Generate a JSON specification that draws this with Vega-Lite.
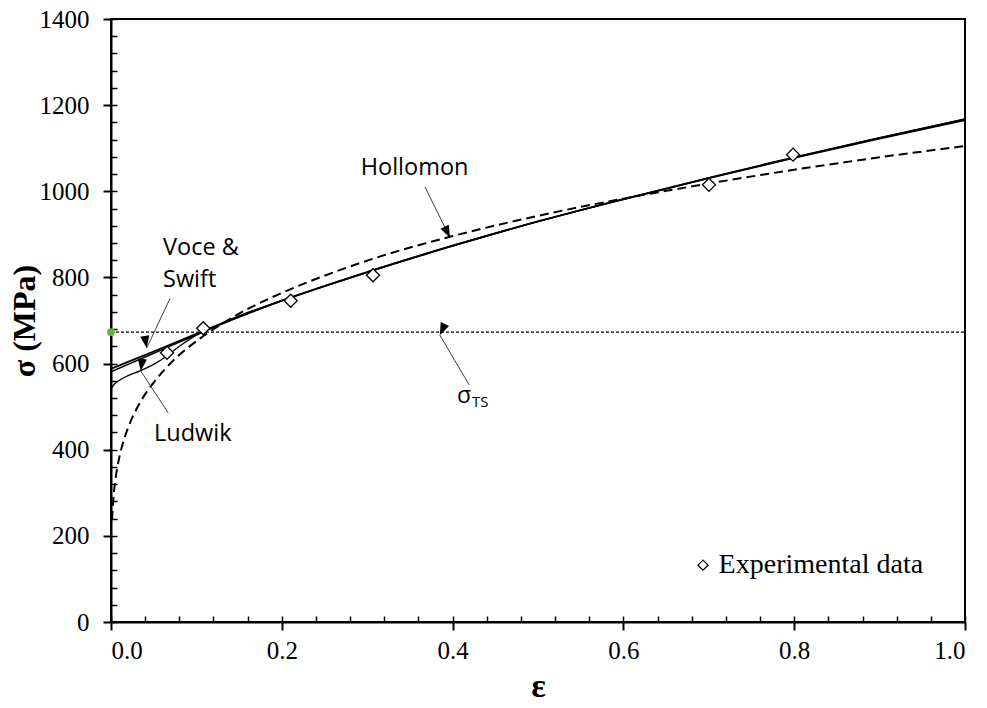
{
  "$schema": "https://vega.github.io/schema/vega-lite/v6.json",
  "width": 854,
  "height": 603,
  "autosize": "none",
  "padding": {"left": 111, "top": 19, "right": 22, "bottom": 86},
  "background": "white",
  "config": {
    "view": {"stroke": "black", "strokeWidth": 2},
    "axis": {"grid": false, "domainColor": "black", "tickColor": "black", "labelColor": "black", "titleColor": "black"}
  },
  "datasets": {
    "curves": [
      {"model": "Hollomon", "eps": 0.0012, "sigma": 237},
      {"model": "Hollomon", "eps": 0.003, "sigma": 292},
      {"model": "Hollomon", "eps": 0.005, "sigma": 328},
      {"model": "Hollomon", "eps": 0.0075, "sigma": 360},
      {"model": "Hollomon", "eps": 0.01, "sigma": 385},
      {"model": "Hollomon", "eps": 0.015, "sigma": 422},
      {"model": "Hollomon", "eps": 0.02, "sigma": 451},
      {"model": "Hollomon", "eps": 0.03, "sigma": 495},
      {"model": "Hollomon", "eps": 0.04, "sigma": 529},
      {"model": "Hollomon", "eps": 0.05, "sigma": 556},
      {"model": "Hollomon", "eps": 0.075, "sigma": 611},
      {"model": "Hollomon", "eps": 0.1, "sigma": 652},
      {"model": "Hollomon", "eps": 0.125, "sigma": 686},
      {"model": "Hollomon", "eps": 0.15, "sigma": 716},
      {"model": "Hollomon", "eps": 0.2, "sigma": 764},
      {"model": "Hollomon", "eps": 0.25, "sigma": 804},
      {"model": "Hollomon", "eps": 0.3, "sigma": 839},
      {"model": "Hollomon", "eps": 0.4, "sigma": 896},
      {"model": "Hollomon", "eps": 0.5, "sigma": 943},
      {"model": "Hollomon", "eps": 0.6, "sigma": 983},
      {"model": "Hollomon", "eps": 0.7, "sigma": 1018},
      {"model": "Hollomon", "eps": 0.8, "sigma": 1050},
      {"model": "Hollomon", "eps": 0.9, "sigma": 1079},
      {"model": "Hollomon", "eps": 1.0, "sigma": 1105},
      {"model": "Swift", "eps": 0, "sigma": 588},
      {"model": "Swift", "eps": 0.02, "sigma": 604},
      {"model": "Swift", "eps": 0.05, "sigma": 628},
      {"model": "Swift", "eps": 0.1, "sigma": 669},
      {"model": "Swift", "eps": 0.15, "sigma": 709},
      {"model": "Swift", "eps": 0.2, "sigma": 746},
      {"model": "Swift", "eps": 0.3, "sigma": 812},
      {"model": "Swift", "eps": 0.4, "sigma": 873},
      {"model": "Swift", "eps": 0.5, "sigma": 930},
      {"model": "Swift", "eps": 0.6, "sigma": 982},
      {"model": "Swift", "eps": 0.7, "sigma": 1031},
      {"model": "Swift", "eps": 0.8, "sigma": 1079},
      {"model": "Swift", "eps": 0.9, "sigma": 1124},
      {"model": "Swift", "eps": 1.0, "sigma": 1167},
      {"model": "Voce", "eps": 0, "sigma": 581},
      {"model": "Voce", "eps": 0.02, "sigma": 598},
      {"model": "Voce", "eps": 0.05, "sigma": 624},
      {"model": "Voce", "eps": 0.1, "sigma": 667},
      {"model": "Voce", "eps": 0.15, "sigma": 708},
      {"model": "Voce", "eps": 0.2, "sigma": 746},
      {"model": "Voce", "eps": 0.3, "sigma": 813},
      {"model": "Voce", "eps": 0.4, "sigma": 874},
      {"model": "Voce", "eps": 0.5, "sigma": 930},
      {"model": "Voce", "eps": 0.6, "sigma": 981},
      {"model": "Voce", "eps": 0.7, "sigma": 1030},
      {"model": "Voce", "eps": 0.8, "sigma": 1077},
      {"model": "Voce", "eps": 0.9, "sigma": 1122},
      {"model": "Voce", "eps": 1.0, "sigma": 1165},
      {"model": "Ludwik", "eps": 0, "sigma": 540},
      {"model": "Ludwik", "eps": 0.003, "sigma": 550},
      {"model": "Ludwik", "eps": 0.0105, "sigma": 562},
      {"model": "Ludwik", "eps": 0.02, "sigma": 572},
      {"model": "Ludwik", "eps": 0.034, "sigma": 583},
      {"model": "Ludwik", "eps": 0.05, "sigma": 598},
      {"model": "Ludwik", "eps": 0.065, "sigma": 617},
      {"model": "Ludwik", "eps": 0.08, "sigma": 640},
      {"model": "Ludwik", "eps": 0.1, "sigma": 666},
      {"model": "Ludwik", "eps": 0.12, "sigma": 685},
      {"model": "Ludwik", "eps": 0.15, "sigma": 711},
      {"model": "Ludwik", "eps": 0.2, "sigma": 746},
      {"model": "Ludwik", "eps": 0.3, "sigma": 812},
      {"model": "Ludwik", "eps": 0.4, "sigma": 873},
      {"model": "Ludwik", "eps": 0.5, "sigma": 930},
      {"model": "Ludwik", "eps": 0.6, "sigma": 982},
      {"model": "Ludwik", "eps": 0.7, "sigma": 1031},
      {"model": "Ludwik", "eps": 0.8, "sigma": 1079},
      {"model": "Ludwik", "eps": 0.9, "sigma": 1124},
      {"model": "Ludwik", "eps": 1.0, "sigma": 1168}
    ],
    "exp": [
      {"eps": 0.0656, "sigma": 625},
      {"eps": 0.108, "sigma": 682},
      {"eps": 0.2104, "sigma": 746},
      {"eps": 0.3068, "sigma": 805},
      {"eps": 0.7002, "sigma": 1015},
      {"eps": 0.7986, "sigma": 1085}
    ],
    "legendSymbol": [
      {"eps": 0.6932, "sigma": 132}
    ],
    "legendText": [
      {"text": "Experimental data", "eps": 0.7115, "sigma": 132}
    ],
    "ts": [
      {"eps": 0, "sigma": 673},
      {"eps": 1, "sigma": 673}
    ],
    "tsPoint": [
      {"eps": 0, "sigma": 673}
    ],
    "arrows": [
      {"id": "Hollomon", "end": "start", "eps": 0.3677, "sigma": 1010},
      {"id": "Hollomon", "end": "tip", "eps": 0.397, "sigma": 892},
      {"id": "Voce", "end": "start", "eps": 0.0691, "sigma": 751},
      {"id": "Voce", "end": "tip", "eps": 0.0418, "sigma": 636},
      {"id": "Ludwik", "end": "start", "eps": 0.0671, "sigma": 485},
      {"id": "Ludwik", "end": "tip", "eps": 0.0348, "sigma": 583},
      {"id": "TS", "end": "start", "eps": 0.4196, "sigma": 550},
      {"id": "TS", "end": "tip", "eps": 0.385, "sigma": 666}
    ],
    "labels": [
      {"text": "Hollomon", "eps": 0.2924, "sigma": 1054},
      {"text": "Voce &", "eps": 0.0609, "sigma": 868},
      {"text": "Swift", "eps": 0.0609, "sigma": 794},
      {"text": "Ludwik", "eps": 0.0504, "sigma": 436}
    ],
    "sigmaLabel": [
      {"text": "σ", "eps": 0.4052, "sigma": 508}
    ],
    "subLabel": [
      {"text": "TS", "eps": 0.4227, "sigma": 499}
    ]
  },
  "encoding": {
    "x": {"field": "eps", "type": "quantitative", "scale": {"domain": [0, 1], "nice": false, "zero": false}, "axis": null},
    "y": {"field": "sigma", "type": "quantitative", "scale": {"domain": [0, 1400], "nice": false, "zero": false}, "axis": null}
  },
  "layer": [
    {
      "data": {"name": "ts"},
      "mark": {"type": "line", "color": "black", "strokeWidth": 1.2, "strokeDash": [3, 2]},
      "encoding": {
        "x": {"field": "eps", "type": "quantitative", "scale": {"domain": [0, 1], "nice": false, "zero": false},
              "axis": {"values": [0, 0.04, 0.08, 0.12, 0.16, 0.2, 0.24, 0.28, 0.32, 0.36, 0.4, 0.44, 0.48, 0.52, 0.56, 0.6, 0.64, 0.68, 0.72, 0.76, 0.8, 0.84, 0.88, 0.92, 0.96, 1.0],
                       "labels": false, "domain": false, "tickSize": -6, "tickWidth": 1.5, "title": null, "orient": "bottom"}},
        "y": {"field": "sigma", "type": "quantitative", "scale": {"domain": [0, 1400], "nice": false, "zero": false},
              "axis": {"values": [0, 40, 80, 120, 160, 200, 240, 280, 320, 360, 400, 440, 480, 520, 560, 600, 640, 680, 720, 760, 800, 840, 880, 920, 960, 1000, 1040, 1080, 1120, 1160, 1200, 1240, 1280, 1320, 1360, 1400],
                       "labels": false, "domain": false, "tickSize": -6, "tickWidth": 1.5, "title": null, "orient": "left"}}
      }
    },
    {
      "data": {"name": "curves"},
      "transform": [{"filter": "datum.model === 'Swift'"}],
      "mark": {"type": "line", "color": "black", "strokeWidth": 1.8, "interpolate": "monotone"},
      "encoding": {
        "x": {"field": "eps", "type": "quantitative", "scale": {"domain": [0, 1], "nice": false, "zero": false},
              "axis": {"values": [0, 0.2, 0.4, 0.6, 0.8, 1.0], "format": ".1f", "title": "ε", "orient": "bottom",
                       "titleFont": "Liberation Serif", "titleFontSize": 34, "titleFontWeight": "bold", "titlePadding": 6,
                       "labelFont": "Liberation Serif", "labelFontSize": 25, "labelPadding": 8,
                       "tickSize": 8, "tickWidth": 2, "domainWidth": 2}},
        "y": {"field": "sigma", "type": "quantitative", "scale": {"domain": [0, 1400], "nice": false, "zero": false},
              "axis": {"values": [0, 200, 400, 600, 800, 1000, 1200, 1400], "format": "d", "title": "σ (MPa)", "orient": "left",
                       "titleFont": "Liberation Serif", "titleFontSize": 32, "titleFontWeight": "bold", "titlePadding": -2,
                       "labelFont": "Liberation Serif", "labelFontSize": 25, "labelPadding": 14,
                       "tickSize": 8, "tickWidth": 2, "domainWidth": 2}}
      }
    },
    {
      "data": {"name": "curves"},
      "transform": [{"filter": "datum.model === 'Voce'"}],
      "mark": {"type": "line", "color": "black", "strokeWidth": 1.5, "interpolate": "monotone"}
    },
    {
      "data": {"name": "curves"},
      "transform": [{"filter": "datum.model === 'Ludwik'"}],
      "mark": {"type": "line", "color": "black", "strokeWidth": 1.3, "interpolate": "monotone"}
    },
    {
      "data": {"name": "curves"},
      "transform": [{"filter": "datum.model === 'Hollomon'"}],
      "mark": {"type": "line", "color": "black", "strokeWidth": 2, "strokeDash": [9, 5], "interpolate": "monotone"}
    },
    {
      "data": {"name": "exp"},
      "mark": {"type": "point", "shape": "diamond", "filled": true, "fill": "white", "stroke": "black", "fillOpacity": 1, "strokeWidth": 1.3, "size": 170, "opacity": 1}
    },
    {
      "data": {"name": "legendSymbol"},
      "mark": {"type": "point", "shape": "diamond", "filled": true, "fill": "white", "stroke": "black", "fillOpacity": 1, "strokeWidth": 1.3, "size": 100, "opacity": 1}
    },
    {
      "data": {"name": "legendText"},
      "mark": {"type": "text", "font": "Liberation Serif", "fontSize": 28, "color": "black", "align": "left", "baseline": "middle"},
      "encoding": {"text": {"field": "text", "type": "nominal"}}
    },
    {
      "data": {"name": "tsPoint"},
      "mark": {"type": "point", "filled": true, "color": "#70ad47", "size": 60, "shape": "circle", "opacity": 1, "clip": false}
    },
    {
      "data": {"name": "arrows"},
      "mark": {"type": "line", "color": "#404040", "strokeWidth": 1},
      "encoding": {
        "detail": {"field": "id", "type": "nominal"},
        "order": {"field": "end", "type": "nominal"}
      }
    },
    {
      "data": {"name": "arrows"},
      "transform": [{"filter": "datum.end === 'tip'"}],
      "mark": {"type": "point", "filled": true, "color": "black", "opacity": 1, "size": 150, "shape": "M0,0L-0.75,2L0.75,2Z"},
      "encoding": {
        "angle": {"field": "id", "type": "nominal", "scale": {"domain": ["Hollomon", "Voce", "Ludwik", "TS"], "range": [153.9, 204.7, 327.3, 330.5]}, "legend": null}
      }
    },
    {
      "data": {"name": "labels"},
      "mark": {"type": "text", "font": "Open Sans", "fontSize": 23.5, "color": "black", "align": "left", "baseline": "middle"},
      "encoding": {"text": {"field": "text", "type": "nominal"}}
    },
    {
      "data": {"name": "sigmaLabel"},
      "mark": {"type": "text", "font": "Open Sans", "fontSize": 23, "color": "black", "align": "left", "baseline": "alphabetic"},
      "encoding": {"text": {"field": "text", "type": "nominal"}}
    },
    {
      "data": {"name": "subLabel"},
      "mark": {"type": "text", "font": "Open Sans", "fontSize": 15, "color": "black", "align": "left", "baseline": "alphabetic"},
      "encoding": {"text": {"field": "text", "type": "nominal"}}
    }
  ],
  "resolve": {"axis": {"x": "independent", "y": "independent"}}
}
